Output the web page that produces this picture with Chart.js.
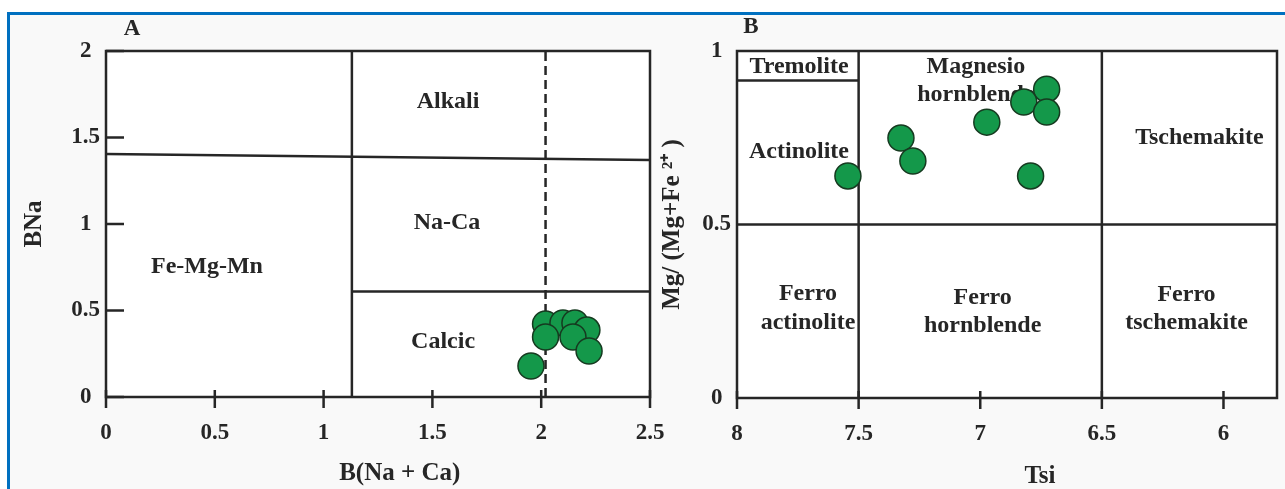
<!DOCTYPE html>
<html>
<head>
<meta charset="utf-8">
<script src="https://cdn.jsdelivr.net/npm/chart.js@4.4.1/dist/chart.umd.min.js"></script>
<style>
  html, body { margin: 0; padding: 0; background: #fff; }
  body { width: 1285px; height: 489px; position: relative; overflow: hidden; }
  #frame {
    position: absolute; left: 7px; top: 12px; right: 0; bottom: 0;
    border-top: 3px solid #0070c0; border-left: 3px solid #0070c0;
    background: #f9f9f9;
  }
  canvas { position: absolute; top: 16px; }
  #chartA { left: 10px; }
  #chartB { left: 650px; }
</style>
</head>
<body>
<div id="frame"></div>
<canvas id="chartA" width="680" height="473"></canvas>
<canvas id="chartB" width="635" height="473"></canvas>
<script>
// ---- panel A : BNa vs B(Na + Ca) ----
const xTicksA = [0, 0.5, 1, 1.5, 2, 2.5];
const yTicksA = [0, 0.5, 1, 1.5, 2];
const sampleBCaNa = [2.02, 2.10, 2.155, 2.21, 2.02, 2.146, 2.22, 1.953];
const sampleBNa   = [0.422, 0.428, 0.428, 0.387, 0.347, 0.347, 0.266, 0.179];
// field boundaries, [x, y] end points
const boundariesA = [
  [[1.13, 0], [1.13, 2]],
  [[0, 1.405], [2.5, 1.37]],
  [[1.13, 0.61], [2.5, 0.61]]
];
const dashedA = [[2.02, 0], [2.02, 2]];
const fieldNamesA = [['Alkali'], ['Na-Ca'], ['Fe-Mg-Mn'], ['Calcic']];
const fieldAnchorsA = [[1.572, 1.671], [1.567, 0.971], [0.464, 0.717], [1.549, 0.283]];

// ---- panel B : Mg/(Mg+Fe2+) vs Tsi ----
const xTicksB = [8, 7.5, 7, 6.5, 6];
const yTicksB = [0, 0.5, 1];
const sampleTsi     = [7.544, 7.326, 7.277, 6.973, 6.727, 6.821, 6.727, 6.793];
const sampleMgRatio = [0.640, 0.749, 0.683, 0.795, 0.890, 0.853, 0.824, 0.640];
const boundariesB = [
  [[7.5, 0], [7.5, 1]],
  [[6.5, 0], [6.5, 1]],
  [[8, 0.5], [5.78, 0.5]],
  [[8, 0.915], [7.5, 0.915]]
];
const fieldNamesB = [
  ['Tremolite'], ['Magnesio', 'hornblende'], ['Actinolite'], ['Tschemakite'],
  ['Ferro', 'actinolite'], ['Ferro', 'hornblende'], ['Ferro', 'tschemakite']
];
const fieldAnchorsB = [
  [7.745, 0.937], [7.018, 0.937], [7.745, 0.692], [6.099, 0.732],
  [7.708, 0.282], [6.990, 0.271], [6.152, 0.280]
];

const ink = '#262626';
const green = '#14984a';
const serif = 'Liberation Serif, Times New Roman, serif';

const toXY = pts => pts.map(([x, y]) => ({ x, y }));

const diagramPlugin = {
  id: 'diagram',
  beforeDraw(chart) {
    const { ctx, chartArea: a } = chart;
    ctx.save();
    ctx.fillStyle = '#ffffff';
    ctx.fillRect(a.left, a.top, a.right - a.left, a.bottom - a.top);
    ctx.restore();
  },
  beforeDatasetsDraw(chart, args, opts) {
    const { ctx, chartArea: a, scales: { x, y } } = chart;
    ctx.save();
    ctx.strokeStyle = ink;
    ctx.lineWidth = 2.5;
    ctx.strokeRect(a.left, a.top, a.right - a.left, a.bottom - a.top);

    // tick marks crossing the bottom axis
    ctx.beginPath();
    x.ticks.forEach(t => {
      const px = x.getPixelForValue(t.value);
      ctx.moveTo(px, a.bottom - 7);
      ctx.lineTo(px, a.bottom + 11);
    });
    if (opts.innerYTicks) {
      y.ticks.forEach(t => {
        const py = y.getPixelForValue(t.value);
        ctx.moveTo(a.left, py);
        ctx.lineTo(a.left + 18, py);
      });
    }
    ctx.stroke();

    ctx.fillStyle = ink;
    ctx.font = 'bold 24px ' + serif;
    ctx.textAlign = 'center';
    ctx.textBaseline = 'alphabetic';
    opts.names.forEach((lines, i) => {
      const px = x.getPixelForValue(opts.anchors[i][0]);
      const py = y.getPixelForValue(opts.anchors[i][1]);
      lines.forEach((s, k) => ctx.fillText(s, px, py + k * 28.5));
    });

    // panel letter and x axis title
    ctx.font = 'bold 23px ' + serif;
    ctx.textBaseline = 'middle';
    ctx.fillText(opts.letter, a.left + opts.letterDx, a.top + opts.letterDy);
    ctx.font = 'bold 25px ' + serif;
    ctx.fillText(opts.xTitle, a.left + opts.xTitleFrac * (a.right - a.left), a.bottom + opts.xTitleDy);
    ctx.restore();
  }
};

function pointSet(xs, ys) {
  return {
    data: xs.map((v, i) => ({ x: v, y: ys[i] })),
    pointRadius: 13,
    backgroundColor: green,
    borderColor: '#163a20',
    borderWidth: 1.5
  };
}

function lineSet(seg, dash) {
  return {
    data: toXY(seg),
    showLine: true,
    pointRadius: 0,
    borderColor: ink,
    borderWidth: 2.5,
    borderDash: dash || []
  };
}

const tickFont = { family: serif, size: 23, weight: 'bold' };

function axisOpts(min, max, ticks, size, extra) {
  const horizontal = extra.axis === 'x';
  return Object.assign({
    type: 'linear',
    min: min,
    max: max,
    grid: { display: false, drawTicks: false },
    border: { display: false },
    afterBuildTicks: s => { s.ticks = ticks.map(v => ({ value: v })); },
    // fixed axis box so the plot area lands where the figure has it
    afterFit: s => {
      if (horizontal) s.height = size; else s.width = size;
      s.paddingLeft = s.paddingRight = s.paddingTop = s.paddingBottom = 0;
    },
    ticks: {
      font: tickFont, color: ink, autoSkip: false, maxRotation: 0,
      padding: horizontal ? 22 : 6,
      crossAlign: horizontal ? 'near' : 'center',
      callback: v => String(v)
    }
  }, extra);
}

new Chart(document.getElementById('chartA'), {
  type: 'scatter',
  data: {
    datasets: [
      pointSet(sampleBCaNa, sampleBNa),
      ...boundariesA.map(seg => lineSet(seg)),
      lineSet(dashedA, [9, 5])
    ]
  },
  options: {
    responsive: false,
    animation: false,
    events: [],
    layout: { autoPadding: false, padding: { left: 0, top: 35, right: 40, bottom: 0 } },
    plugins: {
      legend: { display: false },
      tooltip: { enabled: false },
      diagram: {
        names: fieldNamesA, anchors: fieldAnchorsA, innerYTicks: true,
        letter: 'A', letterDx: 26, letterDy: -22,
        xTitle: 'B(Na + Ca)', xTitleFrac: 0.54, xTitleDy: 77
      }
    },
    scales: {
      x: axisOpts(0, 2.5, xTicksA, 92, { axis: 'x' }),
      y: axisOpts(0, 2, yTicksA, 96, {
        axis: 'y',
        title: {
          display: true, text: 'BNa', color: ink,
          font: { family: serif, size: 25, weight: 'bold' },
          padding: { top: 10, bottom: 0 }
        }
      })
    }
  },
  plugins: [diagramPlugin]
});

new Chart(document.getElementById('chartB'), {
  type: 'scatter',
  data: {
    datasets: [
      pointSet(sampleTsi, sampleMgRatio),
      ...boundariesB.map(seg => lineSet(seg))
    ]
  },
  options: {
    responsive: false,
    animation: false,
    events: [],
    layout: { autoPadding: false, padding: { left: 0, top: 35, right: 8, bottom: 0 } },
    plugins: {
      legend: { display: false },
      tooltip: { enabled: false },
      diagram: {
        names: fieldNamesB, anchors: fieldAnchorsB, innerYTicks: false,
        letter: 'B', letterDx: 14, letterDy: -24,
        xTitle: 'Tsi', xTitleFrac: 0.561, xTitleDy: 79
      }
    },
    scales: {
      x: axisOpts(5.78, 8, xTicksB, 91, { axis: 'x', reverse: true }),
      y: axisOpts(0, 1, yTicksB, 87, {
        axis: 'y',
        title: {
          display: true, text: 'Mg/ (Mg+Fe ²⁺ )', color: ink,
          font: { family: serif, size: 25, weight: 'bold' },
          padding: { top: 8, bottom: 0 }
        }
      })
    }
  },
  plugins: [diagramPlugin]
});
</script>
</body>
</html>
